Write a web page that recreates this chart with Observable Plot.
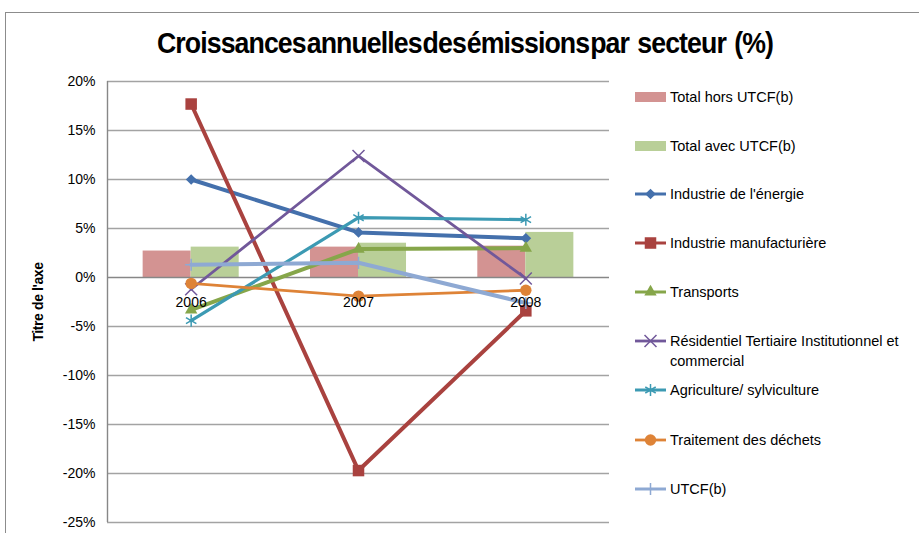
<!DOCTYPE html>
<html><head><meta charset="utf-8">
<script src="https://cdn.jsdelivr.net/npm/d3@7"></script>
<script src="https://cdn.jsdelivr.net/npm/@observablehq/plot@0.6"></script>
<style>
body{margin:0;background:#fff;font-family:"Liberation Sans",Arial,sans-serif;}
#wrap{position:relative;width:919px;height:533px;overflow:hidden;background:#fff;}
#frame{position:absolute;left:5px;top:12px;width:930px;height:540px;border-left:1.5px solid #8c8c8c;border-top:1.5px solid #8c8c8c;}
#title{position:absolute;left:465px;top:28.5px;line-height:29px;font-weight:bold;font-size:29px;letter-spacing:-1px;word-spacing:-6px;color:#000;white-space:nowrap;transform-origin:0 50%;}
#title .sp{word-spacing:2px;}
#ytitle{position:absolute;left:38px;top:302px;transform:translate(-50%,-50%) rotate(-90deg);font-weight:bold;font-size:14px;letter-spacing:-0.4px;white-space:nowrap;color:#000;}
#chart{position:absolute;left:0;top:0;}
.leg{position:absolute;left:635px;height:20px;display:flex;align-items:center;font-size:14.5px;color:#000;white-space:nowrap;}
.leg svg{margin-right:3px;flex:none;}
.leg .two{line-height:20px;}
</style>
</head><body>
<div id="wrap">
<div id="frame"></div>
<div id="chart"></div>
<div id="title">Croissances annuelles des émissions par<span class="sp"> secteur (%)</span></div>
<div id="ytitle">Titre de l'axe</div>
<div id="legend"></div>
</div>
<script>
// ---- data ----
const years = [2006, 2007, 2008];
const yTicks = [20, 15, 10, 5, 0, -5, -10, -15, -20, -25];
const yTickLabels = ["20%", "15%", "10%", "5%", "0%", "-5%", "-10%", "-15%", "-20%", "-25%"];

const barNames = ["Total hors UTCF(b)", "Total avec UTCF(b)"];
const totalHors = [2.7, 3.1, 3.2];
const totalAvec = [3.1, 3.5, 4.6];

const lineNames = [
  "Industrie de l'énergie",
  "Industrie manufacturière",
  "Transports",
  "Résidentiel Tertiaire Institutionnel et commercial",
  "Agriculture/ sylviculture",
  "Traitement des déchets",
  "UTCF(b)"
];
const energie     = [10.0,   4.6,  4.0];
const manuf       = [17.7, -19.7, -3.4];
const transports  = [-3.3,   2.9,  3.0];
const residentiel = [-1.2,  12.4, -0.1];
const agriculture = [-4.4,   6.1,  5.9];
const dechets     = [-0.6,  -1.9, -1.3];
const utcf        = [ 1.3,   1.5, -2.6];

// ---- styles ----
const barColors = ["#D39392", "#B9CF98"];
const lineStyles = [
  {values: energie,     color: "#4470AC", w: 4,    sym: d3.symbolDiamond2, r: 4.8, fill: true},
  {values: manuf,       color: "#A9423F", w: 4,    sym: d3.symbolSquare,   r: 6.5, fill: true},
  {values: transports,  color: "#86A64A", w: 4,    sym: d3.symbolTriangle, r: 4.6, fill: true},
  {values: residentiel, color: "#71589A", w: 2.8,  sym: d3.symbolTimes,    r: 5.5, fill: false},
  {values: agriculture, color: "#3C9AB3", w: 3.2,  sym: d3.symbolAsterisk, r: 5.7, fill: false},
  {values: dechets,     color: "#DE8337", w: 2.8,  sym: d3.symbolCircle,   r: 5.7, fill: true},
  {values: utcf,        color: "#8EA9D3", w: 4,    sym: d3.symbolPlus,     r: 4.0, fill: false}
];

const barW = 0.287;
const xDomain = [2005.5, 2008.5];
const yDomain = [-25, 20];

const marks = [];
marks.push(Plot.ruleY(yTicks.filter(t => t !== 0), {stroke: "#a3a3a3", strokeWidth: 1.4}));
[totalHors, totalAvec].forEach((vals, k) => {
  const rows = years.map((yr, i) => ({year: yr, v: vals[i]}));
  marks.push(Plot.rectY(rows, {
    x1: d => k === 0 ? d.year - barW : d.year,
    x2: d => k === 0 ? d.year : d.year + barW,
    y: "v", fill: barColors[k], inset: 0
  }));
});
marks.push(Plot.ruleY([0], {stroke: "#878787", strokeWidth: 1.6}));
marks.push(Plot.ruleX([xDomain[0]], {stroke: "#878787", strokeWidth: 1.4}));
lineStyles.forEach(s => {
  const rows = years.map((yr, i) => ({year: yr, v: s.values[i]}));
  marks.push(Plot.line(rows, {x: "year", y: "v", stroke: s.color, strokeWidth: s.w}));
  marks.push(Plot.dot(rows, s.fill
    ? {x: "year", y: "v", symbol: s.sym, r: s.r, fill: s.color, stroke: "none"}
    : {x: "year", y: "v", symbol: s.sym, r: s.r, stroke: s.color, strokeWidth: 1.5, fill: "none"}));
});
marks.push(Plot.text(years, {x: d => d, y: () => 0, dy: 25, text: d => String(d),
  fill: "#000", fontSize: 14, fontFamily: "Liberation Sans, Arial, sans-serif"}));
marks.push(Plot.axisY(yTicks, {tickSize: 0, tickPadding: 12, tickFormat: (d) => yTickLabels[yTicks.indexOf(d)],
  fontSize: 14, fill: "#000", label: null}));

const chart = Plot.plot({
  width: 919, height: 533,
  marginLeft: 107, marginRight: 310, marginTop: 81, marginBottom: 11,
  x: {type: "linear", domain: xDomain, axis: null},
  y: {domain: yDomain, axis: null},
  style: {fontFamily: "Liberation Sans, Arial, sans-serif", fontSize: "14px", background: "transparent", color: "#000"},
  marks
});
document.getElementById("chart").appendChild(chart);

// title: condensed to the reference width
const title = document.getElementById("title");
const tw = title.getBoundingClientRect().width;
const targetW = 616;
title.style.transform = `translateX(${-targetW / 2}px) scaleX(${targetW / tw})`;

// ---- legend ----
const legend = document.getElementById("legend");
const rowCenters = [97, 146, 194, 243, 292, 341, 390, 440, 489];
const items = [
  ...barNames.map((n, k) => ({name: n, bar: barColors[k]})),
  ...lineNames.map((n, k) => ({name: n, style: lineStyles[k]}))
];
items.forEach((it, idx) => {
  const div = document.createElement("div");
  div.className = "leg";
  div.style.top = (rowCenters[idx] - 10) + "px";
  const ns = "http://www.w3.org/2000/svg";
  const svg = document.createElementNS(ns, "svg");
  svg.setAttribute("width", 32); svg.setAttribute("height", 16);
  if (it.bar) {
    const r = document.createElementNS(ns, "rect");
    r.setAttribute("x", 0); r.setAttribute("y", 3); r.setAttribute("width", 31); r.setAttribute("height", 10);
    r.setAttribute("fill", it.bar); svg.appendChild(r);
  } else {
    const s = it.style;
    const l = document.createElementNS(ns, "line");
    l.setAttribute("x1", 0); l.setAttribute("x2", 31); l.setAttribute("y1", 8); l.setAttribute("y2", 8);
    l.setAttribute("stroke", s.color); l.setAttribute("stroke-width", Math.min(s.w, 3)); svg.appendChild(l);
    const p = document.createElementNS(ns, "path");
    p.setAttribute("d", d3.symbol(s.sym, s.r * s.r * Math.PI)());
    p.setAttribute("transform", "translate(15.5,8)");
    if (s.fill) { p.setAttribute("fill", s.color); }
    else { p.setAttribute("fill", "none"); p.setAttribute("stroke", s.color); p.setAttribute("stroke-width", 1.5); }
    svg.appendChild(p);
  }
  div.appendChild(svg);
  const span = document.createElement("span");
  if (it.name.startsWith("Résidentiel")) {
    div.style.alignItems = "flex-start";
    span.className = "two";
    span.innerHTML = "Résidentiel Tertiaire Institutionnel et<br>commercial";
    svg.style.marginTop = "2px";
  } else span.textContent = it.name;
  div.appendChild(span);
  legend.appendChild(div);
});
</script>
</body></html>
